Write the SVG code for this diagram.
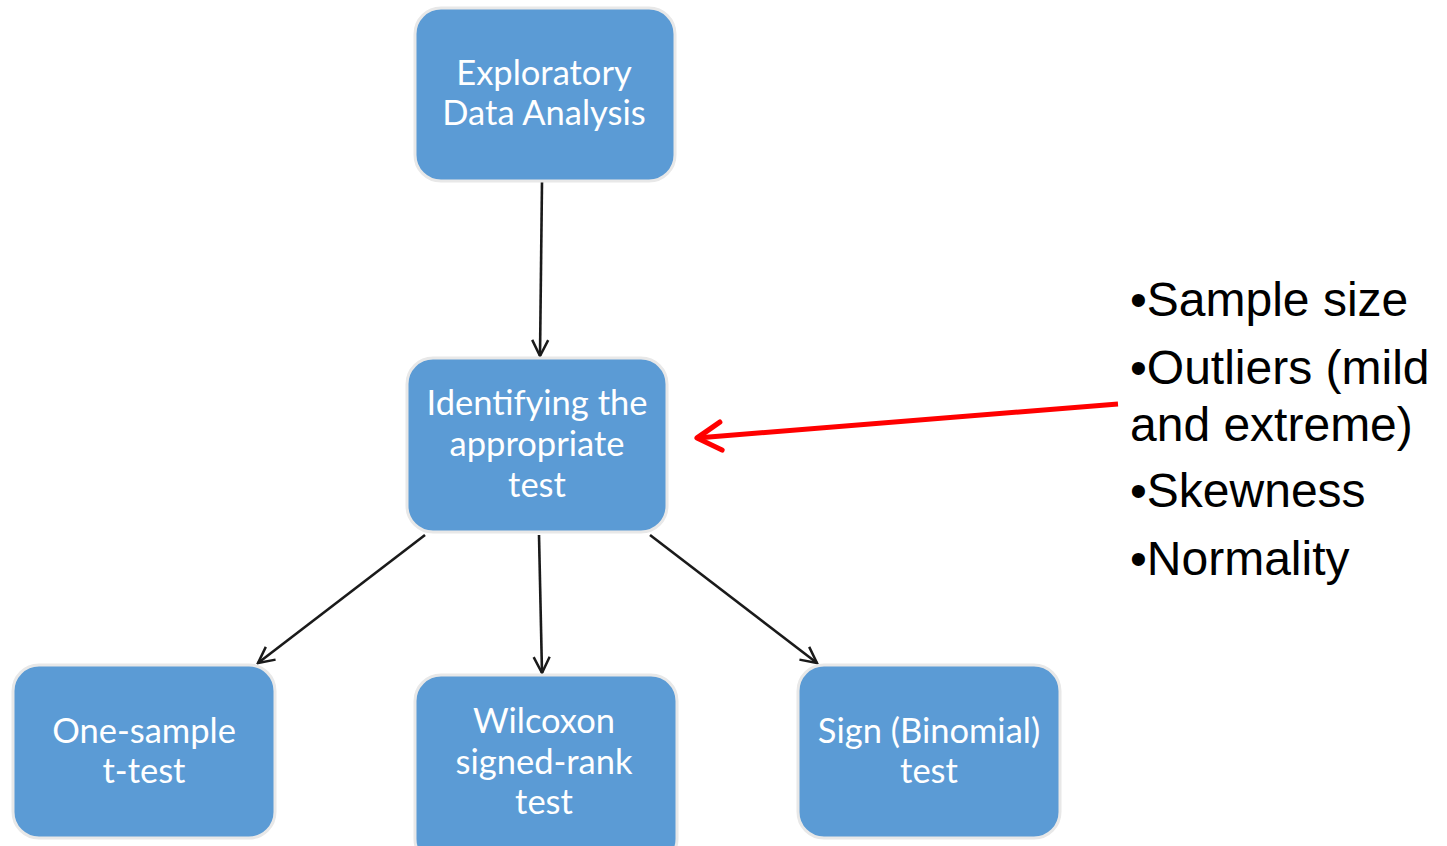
<svg xmlns="http://www.w3.org/2000/svg" width="1447" height="846" viewBox="0 0 1447 846">
<defs>
<style>
.box{fill:#5B9BD5;stroke:#E8E8E8;stroke-width:3}
.lbl{font-family:Lato,"Open Sans",sans-serif;font-size:34.5px;fill:#FFFFFF;text-anchor:middle}
.conn{stroke:#1A1A1A;stroke-width:2.6;fill:none}
.note{font-family:"Liberation Sans",Arial,sans-serif;font-size:48px;fill:#000000}
</style>
<marker id="ah" viewBox="0 0 20 20" refX="18" refY="10" markerWidth="20" markerHeight="20" markerUnits="userSpaceOnUse" orient="auto">
<path d="M2,2 L18,10 L2,18" fill="none" stroke="#1A1A1A" stroke-width="2.5"/>
</marker>
<marker id="rh" viewBox="0 0 20 20" refX="18" refY="10" markerWidth="40" markerHeight="40" markerUnits="userSpaceOnUse" orient="auto">
<path d="M6,3 L18,10 L6,17" fill="none" stroke="#FF0000" stroke-width="2.6" stroke-linecap="round" stroke-linejoin="round"/>
</marker>
</defs>
<rect width="1447" height="846" fill="#FFFFFF"/>
<g id="connectors">
<line class="conn" x1="542" y1="182" x2="540" y2="356" marker-end="url(#ah)"/>
<line class="conn" x1="425" y1="535" x2="258" y2="663" marker-end="url(#ah)"/>
<line class="conn" x1="539" y1="535" x2="542" y2="673" marker-end="url(#ah)"/>
<line class="conn" x1="650" y1="535" x2="817" y2="663" marker-end="url(#ah)"/>
<line x1="1118" y1="404" x2="697" y2="438" stroke="#FF0000" stroke-width="5" marker-end="url(#rh)"/>
</g>
<g id="eda">
<rect class="box" x="415" y="8" width="260" height="173" rx="26"/>
<text class="lbl" x="544" y="85">Exploratory</text>
<text class="lbl" x="544" y="125">Data Analysis</text>
</g>
<g id="identify">
<rect class="box" x="407" y="358" width="260" height="174" rx="26"/>
<text class="lbl" x="537" y="415">Identifying the</text>
<text class="lbl" x="537" y="456">appropriate</text>
<text class="lbl" x="537" y="497">test</text>
</g>
<g id="onesample">
<rect class="box" x="13" y="665" width="262" height="173" rx="26"/>
<text class="lbl" x="144" y="743">One-sample</text>
<text class="lbl" x="144" y="783">t-test</text>
</g>
<g id="wilcoxon">
<rect class="box" x="415" y="675" width="262" height="190" rx="26"/>
<text class="lbl" x="544" y="733">Wilcoxon</text>
<text class="lbl" x="544" y="774">signed-rank</text>
<text class="lbl" x="544" y="814">test</text>
</g>
<g id="sign">
<rect class="box" x="798" y="665" width="262" height="173" rx="26"/>
<text class="lbl" x="929" y="743">Sign (Binomial)</text>
<text class="lbl" x="929" y="783">test</text>
</g>
<g id="notes">
<text class="note" x="1130" y="316">•Sample size</text>
<text class="note" x="1130" y="384">•Outliers (mild</text>
<text class="note" x="1130" y="441">and extreme)</text>
<text class="note" x="1130" y="507">•Skewness</text>
<text class="note" x="1130" y="575">•Normality</text>
</g>
</svg>
